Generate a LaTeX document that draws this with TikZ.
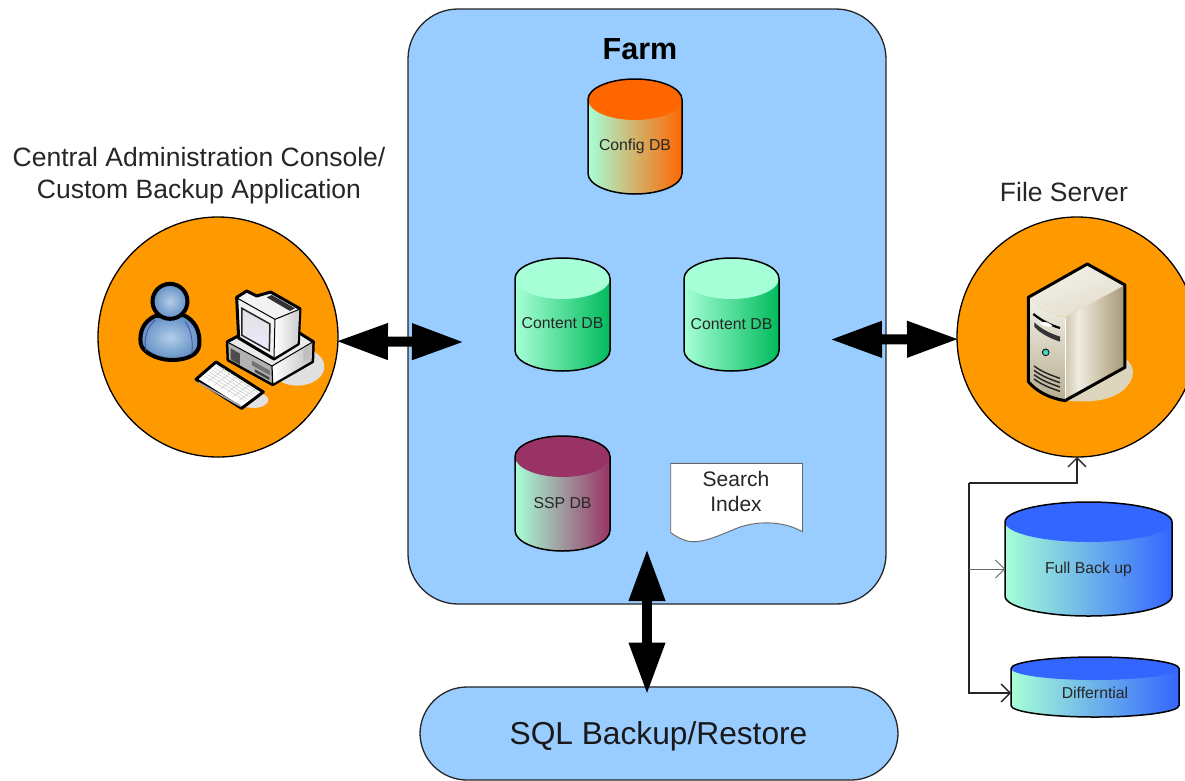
\documentclass[tikz,border=0pt]{standalone}
\usepackage{fontspec}
\setmainfont{Liberation Sans}
\usetikzlibrary{arrows.meta,calc}
\definecolor{farmblue}{HTML}{99CCFF}
\definecolor{orng}{HTML}{FF9900}
\definecolor{mint}{HTML}{A6FFD6}
\definecolor{contentgreen}{HTML}{00BB5C}
\definecolor{configorange}{HTML}{FF6600}
\definecolor{sspred}{HTML}{993366}
\definecolor{backblue}{HTML}{3366FF}
\definecolor{personin}{HTML}{B4CDE8}
\definecolor{personout}{HTML}{5F8FC4}
\definecolor{srvshadow}{HTML}{DDD5BC}
\definecolor{srvA}{HTML}{CFC6AC}
\definecolor{srvB}{HTML}{EFEBE0}
\definecolor{srvC}{HTML}{C6BCA0}
\definecolor{srvD}{HTML}{A5987A}
\definecolor{srvE}{HTML}{F3F1E9}
\definecolor{srvF}{HTML}{B7AD90}
\definecolor{srvG}{HTML}{E2DDCD}
\pgfdeclarehorizontalshading{srvright}{100bp}{color(0bp)=(srvA); color(25bp)=(srvA); color(36bp)=(srvB); color(58bp)=(srvC); color(75bp)=(srvD); color(100bp)=(srvD)}
\tikzset{
  panel/.style={draw=black!85,line width=1.3pt,fill=farmblue,rounded corners=50pt,inner sep=0pt,outer sep=0pt},
  roundcirc/.style={circle,draw=black,line width=1.3pt,fill=orng,minimum size=240pt,inner sep=0pt,outer sep=0pt},
  bigarrow/.style={line width=10pt,shorten >=-2pt,shorten <=-2pt,{Triangle[length=52pt,width=34pt]}-{Triangle[length=52pt,width=34pt]}},
  thinconn/.style={line width=1.3pt,draw=black!85,-{Straight Barb[length=9pt,width=18pt]}},
  dblabel/.style={font=\fontsize{15.8}{18}\selectfont,text=black!85,inner sep=0pt,outer sep=0pt},
  title/.style={font=\fontsize{26.5}{32}\selectfont,align=center,text=black!85,inner sep=0pt},
  icon/.style={line width=3pt,draw=black,line join=round},
  personfill/.style={inner color=personin,outer color=personout,draw=black,line width=4pt},
}
% name, x0, x1, top, bottom, ry, rightcolor, topcolor, labely, label
\newcommand{\dbcyl}[9]{%
  \pgfmathsetmacro{\cxx}{(#2+#3)/2}%
  \pgfmathsetmacro{\rxx}{(#3-#2)/2}%
  \pgfmathsetmacro{\kx}{0.55*\rxx}%
  \pgfmathsetmacro{\ky}{0.55*#6}%
  \pgfmathsetmacro{\ya}{#4+#6}%
  \pgfmathsetmacro{\yb}{#5-#6}%
  \shade[left color=mint,right color=#7]
    (#2,\ya) -- (#2,\yb) .. controls (#2,\yb+\ky) and (\cxx-\kx,#5) .. (\cxx,#5)
    .. controls (\cxx+\kx,#5) and (#3,\yb+\ky) .. (#3,\yb) -- (#3,\ya) -- cycle;
  \fill[#8] (\cxx,\ya) ellipse [x radius=\rxx pt,y radius=#6 pt];
  \draw[line width=1.5pt,black]
    (#2,\ya) -- (#2,\yb) .. controls (#2,\yb+\ky) and (\cxx-\kx,#5) .. (\cxx,#5)
    .. controls (\cxx+\kx,#5) and (#3,\yb+\ky) .. (#3,\yb) -- (#3,\ya)
    .. controls (#3,\ya-\ky) and (\cxx+\kx,#4) .. (\cxx,#4)
    .. controls (\cxx-\kx,#4) and (#2,\ya-\ky) .. (#2,\ya) -- cycle;
  \node[dblabel,minimum width=#3 pt-#2 pt] (#1) at (\cxx,#9)
}
\begin{document}
\begin{tikzpicture}[x=1pt,y=-1pt]
\useasboundingbox (0,0) rectangle (1185,780);
\clip (0,0) rectangle (1185,780);
\fill[white] (0,0) rectangle (1185,780);

% Main panels
\draw[panel] (408,9) rectangle (886,604);
\node[inner sep=0pt,font=\bfseries\fontsize{30.5}{34}\selectfont] (farmtitle) at (640,49) {Farm};
\coordinate (farmL) at (462,342);
\coordinate (farmR) at (832,339.5);
\coordinate (farmB) at (647,551);
\coordinate (sqlT) at (647,692.5);
\node[draw=black!85,line width=1.3pt,fill=farmblue,rounded corners=47pt,minimum width=478pt,minimum height=93pt,inner sep=0pt,outer sep=0pt] (sql) at (659,733.5) {};
\node[inner sep=0pt,font=\fontsize{31.7}{36}\selectfont,text=black!90] (sqltext) at (658.5,736) {SQL Backup/Restore};

% Circles
\node[roundcirc] (admin) at (218,337) {};
\node[roundcirc] (fileserver) at (1077,337) {};
\node[title] (admintitle) at (199,176) {Central Administration Console/\\Custom Backup Application};
\node[title] (fstitle) at (1064,192.5) {File Server};

% Databases
\dbcyl{config}{588}{682}{79}{194}{20.5}{configorange}{configorange}{146.5} {Config DB};
\dbcyl{content1}{515}{610}{258}{371}{20.5}{contentgreen}{mint}{323} {Content DB};
\dbcyl{content2}{684}{779}{258}{371}{20.5}{contentgreen}{mint}{324} {Content DB};
\dbcyl{ssp}{515}{610}{436}{551}{20.5}{sspred}{sspred}{503} {SSP DB};
\dbcyl{full}{1005}{1172}{502}{616}{20}{backblue}{backblue}{569} {Full Back up};
\dbcyl{diff}{1011}{1179}{657}{717}{11.5}{backblue}{backblue}{693} {Differntial};

% Search Index document
\draw[draw=black!60,line width=.9pt,fill=white] (670.7,463.3) -- (802.5,463.3) -- (802.5,531.7)
  .. controls (785,522) and (762,520) .. (740,527)
  .. controls (722,534) and (705,543) .. (690,541.5)
  .. controls (682,540) and (675,536) .. (670.7,532.5) -- cycle;
\node[inner sep=0pt,align=center,font=\fontsize{21}{25.5}\selectfont,text=black!85] (search) at (736,491.5) {Search\\Index};

% Big arrows
\draw[bigarrow] (admin.-2.4) -- (farmL);
\draw[bigarrow] (farmR) -- (fileserver.181.2);
\draw[bigarrow] (farmB) -- (sqlT);

% Backup connectors
\coordinate (bus) at (969,483);
\draw[thinconn] (bus) -| (fileserver.south);
\draw[thinconn] (bus) |- (diff.west);
\draw[thinconn,draw=black!60,line width=.8pt] (bus |- full.west) -- (full.west);

% Person + computer icon (zoom coordinates)
\begin{scope}[shift={(90,210)},x=.3333pt,y=-.3333pt]
  \fill[black!12] (622,470) ellipse [x radius=27pt,y radius=19pt];
  \fill[black!12] (490,570) ellipse [x radius=15pt,y radius=8pt];
  % person
  \shade[personfill]
    (195,318) .. controls (160,335) and (148,365) .. (152,400)
    .. controls (155,425) and (200,450) .. (245,450)
    .. controls (290,450) and (325,435) .. (328,405)
    .. controls (332,365) and (315,330) .. (280,315) -- cycle;
  \draw[line width=.8pt,blue!50!black!70] (168,425) .. controls (160,385) and (170,355) .. (195,330);
  \draw[line width=.8pt,blue!50!black!70] (305,435) .. controls (310,395) and (305,360) .. (285,335);
  \shade[personfill]
    (240,274) circle [radius=17.5pt];
  % base
  \fill[white!92!black,icon] (412,395) -- (460,370) -- (630,370) -- (670,395) -- (668,455) -- (548,524) -- (414,450) -- cycle;
  \fill[white!70!black] (415,398) -- (545,470) -- (548,520) -- (417,448) -- cycle;
  \shade[left color=white,right color=black!25] (548,470) -- (667,398) -- (665,453) -- (550,520) -- cycle;
  \draw[line width=1pt] (414,397) -- (546,468) -- (668,396);
  \draw[line width=1.2pt] (546,468) -- (548,522);
  \fill[black!70] (422,415) -- (450,431) -- (450,465) -- (422,448) -- cycle;
  \fill[black!55] (486,452) -- (540,482) -- (540,496) -- (486,466) -- cycle;
  \fill[black!75] (495,478) -- (538,502) -- (538,510) -- (495,486) -- cycle;
  \fill[black!25] (640,418) -- (658,408) -- (658,445) -- (640,455) -- cycle;
  % monitor
  \fill[white!95!black,icon] (440,262) -- (470,243) -- (500,258) -- (542,246) -- (630,296) -- (625,402) -- (552,447) -- (446,384) -- cycle;
  \shade[left color=white,right color=black!20] (555,330) -- (628,298) -- (623,400) -- (552,443) -- cycle;
  \fill[black!80] (530,262) -- (545,255) -- (615,295) -- (600,303) -- cycle;
  \draw[line width=1pt] (441,264) -- (555,328) -- (628,298);
  \draw[line width=1pt] (555,328) -- (552,445);
  \shade[top color=black!12,bottom color=blue!8,draw=black!85,line width=1.5pt]
    (456,295) -- (540,342) -- (538,422) -- (456,376) -- cycle;
  % keyboard
  \fill[white,icon] (318,508) -- (378,456) -- (520,546) -- (455,595) -- cycle;
  \fill[black!35] (325,515) -- (452,585) -- (453,592) -- (325,520) -- cycle;
  \foreach \t in {0.15,0.3,...,0.95}{
    \draw[black!25,line width=.4pt] ($(335,504)!\t!(385,463)$) -- ($(460,578)!\t!(510,545)$);
    \draw[black!25,line width=.4pt] ($(335,504)!\t!(460,578)$) -- ($(385,463)!\t!(510,545)$);
  }
\end{scope}

% Server icon (zoom coordinates)
\begin{scope}[shift={(950,210)},x=.3333pt,y=-.3333pt]
  \fill[srvshadow] (345,572) -- (525,445)
    .. controls (560,470) and (555,510) .. (520,540)
    .. controls (480,575) and (410,578) .. (345,572) -- cycle;
  \shade[shading=srvright] (345,322) -- (525,225) -- (525,472) -- (345,572) -- cycle;
  \shade[top color=srvE,bottom color=srvF]
    (235,262) .. controls (260,295) and (300,315) .. (345,322) -- (345,572)
    .. controls (300,565) and (260,545) .. (235,515) -- cycle;
  \shade[left color=srvE,right color=srvG,shading angle=20]
    (235,262) -- (412,162) -- (525,225) -- (345,322) .. controls (300,315) and (260,295) .. (235,262) -- cycle;
  \draw[white,line width=.9pt] (345,324) -- (345,570);
  \draw[line width=3pt,black,line join=round]
    (235,262) -- (412,162) -- (525,225) -- (525,472) -- (345,572)
    .. controls (300,565) and (260,545) .. (235,515) -- cycle;
  % drive bays
  \draw[black,line width=2.2pt] (250,312) .. controls (275,332) and (300,345) .. (330,354);
  \fill[black!80] (253,337) .. controls (275,358) and (300,370) .. (330,380) -- (330,395) .. controls (300,385) and (270,370) .. (253,350) -- cycle;
  \fill[white] (270,340) .. controls (285,330) and (300,340) .. (308,348) .. controls (295,352) and (280,350) .. (270,340) -- cycle;
  \shade[inner color=white!50!green!40!cyan,outer color=teal!70!white,draw=black,line width=.7pt] (287,427) circle [radius=3.4pt];
  \draw[black!85,line width=1.5pt] (252,468) .. controls (275,485) and (300,495) .. (330,505);
  \draw[black!85,line width=1.5pt] (252,481) .. controls (275,498) and (300,508) .. (330,518);
  \draw[black!85,line width=1.5pt] (252,494) .. controls (275,511) and (300,521) .. (330,531);
  \draw[black!85,line width=1.5pt] (252,507) .. controls (275,524) and (300,534) .. (330,544);
\end{scope}
\end{tikzpicture}
\end{document}
